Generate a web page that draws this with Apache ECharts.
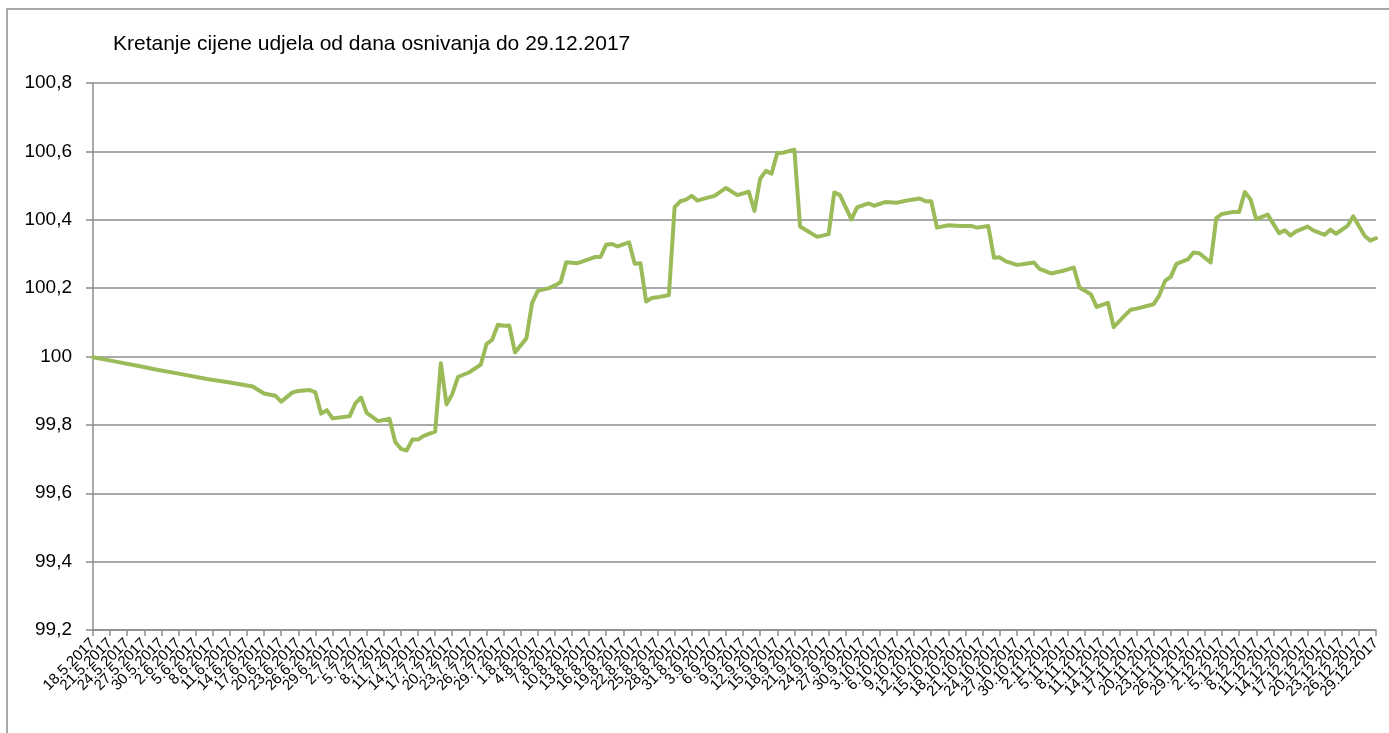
<!DOCTYPE html>
<html>
<head>
<meta charset="utf-8">
<script src="https://cdn.jsdelivr.net/npm/echarts@6/dist/echarts.min.js"></script>
<style>
html,body{margin:0;padding:0;background:#fff;}
#chart{width:1389px;height:733px;}
</style>
</head>
<body>
<div id="chart"></div>
<script>
var titleText = 'Kretanje cijene udjela od dana osnivanja do 29.12.2017';
var startDate = [2017, 4, 18];
var endDate = [2017, 11, 29];
var labelEvery = 3;

var pointDates = [
'18.5.2017','22.5.2017','26.5.2017','29.5.2017','2.6.2017','7.6.2017','11.6.2017','15.6.2017',
'17.6.2017','19.6.2017','20.6.2017','22.6.2017','23.6.2017','25.6.2017','26.6.2017','27.6.2017',
'28.6.2017','29.6.2017','2.7.2017','3.7.2017','4.7.2017','5.7.2017','7.7.2017','9.7.2017',
'10.7.2017','11.7.2017','12.7.2017','13.7.2017','14.7.2017','15.7.2017','17.7.2017','18.7.2017',
'19.7.2017','20.7.2017','21.7.2017','23.7.2017','25.7.2017','26.7.2017','27.7.2017','28.7.2017',
'29.7.2017','30.7.2017','31.7.2017','2.8.2017','3.8.2017','4.8.2017','6.8.2017','7.8.2017',
'8.8.2017','9.8.2017','11.8.2017','13.8.2017','14.8.2017','15.8.2017','16.8.2017','17.8.2017',
'18.8.2017','20.8.2017','21.8.2017','22.8.2017','23.8.2017','24.8.2017','25.8.2017','27.8.2017',
'28.8.2017','29.8.2017','30.8.2017','31.8.2017','1.9.2017','2.9.2017','4.9.2017','6.9.2017',
'8.9.2017','10.9.2017','11.9.2017','12.9.2017','13.9.2017','14.9.2017','15.9.2017','16.9.2017',
'18.9.2017','19.9.2017','20.9.2017','22.9.2017','24.9.2017','25.9.2017','26.9.2017','28.9.2017',
'29.9.2017','1.10.2017','2.10.2017','4.10.2017','6.10.2017','8.10.2017','10.10.2017','11.10.2017',
'12.10.2017','13.10.2017','15.10.2017','17.10.2017','19.10.2017','20.10.2017','22.10.2017','23.10.2017',
'24.10.2017','25.10.2017','27.10.2017','28.10.2017','30.10.2017','31.10.2017','2.11.2017','4.11.2017',
'6.11.2017','7.11.2017','9.11.2017','10.11.2017','12.11.2017','13.11.2017','15.11.2017','16.11.2017',
'17.11.2017','20.11.2017','21.11.2017','22.11.2017','23.11.2017','24.11.2017','26.11.2017','27.11.2017',
'28.11.2017','30.11.2017','1.12.2017','2.12.2017','4.12.2017','5.12.2017','6.12.2017','7.12.2017',
'8.12.2017','10.12.2017','12.12.2017','13.12.2017','14.12.2017','15.12.2017','17.12.2017','18.12.2017',
'20.12.2017','21.12.2017','22.12.2017','24.12.2017','25.12.2017','27.12.2017','28.12.2017','29.12.2017'
];

var pointValues = [
99.998,99.985,99.972,99.962,99.950,99.934,99.924,99.912,
99.892,99.885,99.868,99.895,99.899,99.902,99.895,99.833,
99.843,99.819,99.825,99.863,99.880,99.835,99.811,99.818,
99.750,99.730,99.725,99.757,99.757,99.768,99.780,99.980,
99.860,99.890,99.940,99.954,99.976,100.036,100.049,100.093,
100.090,100.091,100.012,100.053,100.156,100.192,100.200,100.208,
100.217,100.276,100.273,100.285,100.291,100.291,100.327,100.329,
100.322,100.334,100.271,100.273,100.161,100.171,100.173,100.180,
100.437,100.454,100.459,100.470,100.456,100.461,100.470,100.493,
100.472,100.482,100.426,100.520,100.543,100.535,100.595,100.596,
100.605,100.380,100.370,100.350,100.358,100.480,100.472,100.401,
100.436,100.448,100.441,100.452,100.450,100.457,100.462,100.454,
100.454,100.377,100.384,100.382,100.382,100.377,100.382,100.289,
100.290,100.279,100.268,100.270,100.275,100.256,100.243,100.250,
100.260,100.202,100.182,100.145,100.157,100.086,100.121,100.137,
100.140,100.153,100.179,100.221,100.233,100.271,100.284,100.304,
100.302,100.275,100.405,100.417,100.423,100.423,100.481,100.459,
100.402,100.415,100.361,100.369,100.354,100.366,100.380,100.369,
100.356,100.371,100.359,100.382,100.410,100.353,100.339,100.346
];

// daily category axis
var categories = [];
var d = new Date(startDate[0], startDate[1], startDate[2]);
var e = new Date(endDate[0], endDate[1], endDate[2]);
while (d <= e) {
  categories.push(d.getDate() + '.' + (d.getMonth() + 1) + '.' + d.getFullYear());
  d.setDate(d.getDate() + 1);
}
var seriesData = categories.map(function () { return null; });
for (var i = 0; i < pointDates.length; i++) {
  var idx = categories.indexOf(pointDates[i]);
  if (idx >= 0) seriesData[idx] = pointValues[i];
}

var chart = echarts.init(document.getElementById('chart'), null, {renderer: 'canvas'});
var font = 'Liberation Sans';
chart.setOption({
  animation: false,
  backgroundColor: '#fff',
  title: {
    text: titleText,
    left: 108,
    top: 29,
    textStyle: {fontFamily: font, fontSize: 21, fontWeight: 'normal', color: '#000'}
  },
  graphic: [{
    type: 'rect',
    shape: {x: 7, y: 9, width: 1420, height: 800},
    style: {fill: 'none', stroke: '#8c8c8c', lineWidth: 1.5},
    silent: true,
    z: -1
  }],
  grid: {left: 93, right: 13, top: 83, bottom: 103, containLabel: false},
  xAxis: {
    type: 'category',
    data: categories,
    boundaryGap: false,
    axisLine: {show: true, lineStyle: {color: '#8c8c8c', width: 1.5}},
    axisTick: {show: true, interval: labelEvery - 1, length: 6, lineStyle: {color: '#8c8c8c', width: 1.5}},
    axisLabel: {
      interval: 0,
      rotate: 45,
      margin: 11,
      fontFamily: font,
      fontSize: 15,
      color: '#000',
      formatter: function (value, index) {
        return index % labelEvery === 0 ? value : '';
      }
    },
    splitLine: {show: false}
  },
  yAxis: {
    type: 'value',
    min: 99.2,
    max: 100.8,
    interval: 0.2,
    axisLine: {show: true, lineStyle: {color: '#8c8c8c', width: 1.5}},
    axisTick: {show: true, length: 7, lineStyle: {color: '#8c8c8c', width: 1.5}},
    axisLabel: {
      margin: 21,
      fontFamily: font,
      fontSize: 19,
      color: '#000',
      formatter: function (v) {
        if (Math.abs(v - 100) < 1e-6) return '100';
        return v.toFixed(1).replace('.', ',');
      }
    },
    splitLine: {show: true, lineStyle: {color: '#8c8c8c', width: 1.5}}
  },
  series: [{
    type: 'line',
    data: seriesData,
    connectNulls: true,
    showSymbol: false,
    symbol: 'none',
    smooth: false,
    lineStyle: {color: '#9BBB59', width: 4, join: 'round', cap: 'round'},
    itemStyle: {color: '#9BBB59'}
  }]
});
</script>
</body>
</html>
